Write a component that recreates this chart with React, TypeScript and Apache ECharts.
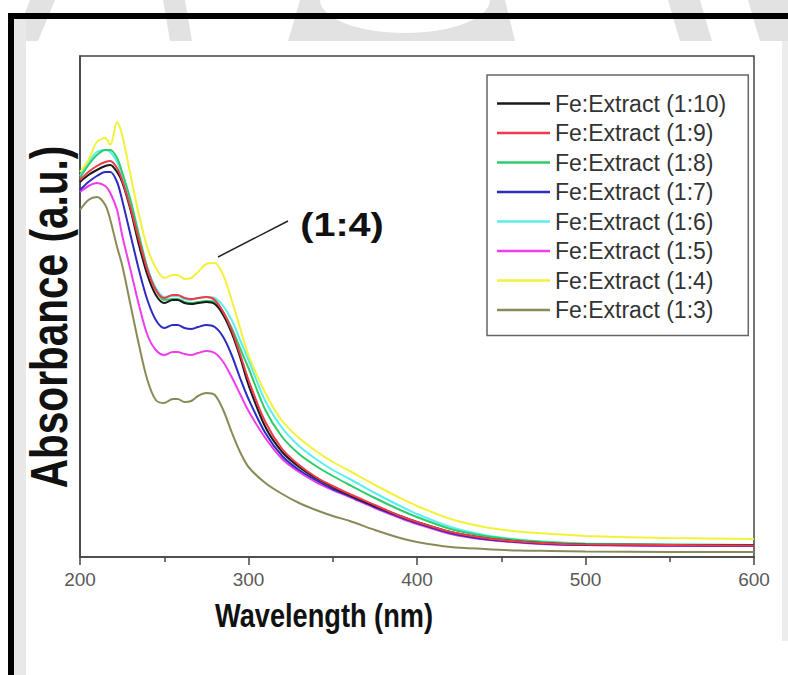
import React, { useEffect, useRef } from "react";
import * as echarts from "echarts";

// Wavelength grid (nm)
const wavelength = [200, 205, 210, 215, 218, 222, 225, 230, 235, 240, 245, 250, 255, 258, 262, 266, 270, 275, 280, 285, 290, 295, 300, 310, 320, 330, 340, 350, 360, 375, 390, 400, 420, 440, 460, 480, 500, 550, 600];

// Absorbance (a.u.)
const abs_1_10 = [3.75, 3.82, 3.87, 3.91, 3.92, 3.85, 3.75, 3.47, 3.12, 2.82, 2.62, 2.54, 2.57, 2.57, 2.54, 2.53, 2.54, 2.55, 2.53, 2.42, 2.24, 2.0, 1.72, 1.3, 1.05, 0.9, 0.79, 0.7, 0.62, 0.51, 0.41, 0.35, 0.25, 0.19, 0.155, 0.135, 0.125, 0.12, 0.12];
const abs_1_9 = [3.77, 3.85, 3.91, 3.95, 3.96, 3.89, 3.77, 3.49, 3.17, 2.87, 2.67, 2.59, 2.62, 2.62, 2.59, 2.58, 2.59, 2.6, 2.57, 2.45, 2.27, 2.03, 1.77, 1.35, 1.08, 0.92, 0.8, 0.71, 0.63, 0.52, 0.41, 0.35, 0.25, 0.19, 0.155, 0.135, 0.125, 0.12, 0.115];
const abs_1_8 = [3.79, 3.92, 4.02, 4.07, 4.07, 3.99, 3.85, 3.57, 3.22, 2.89, 2.67, 2.57, 2.58, 2.58, 2.55, 2.54, 2.55, 2.56, 2.55, 2.45, 2.29, 2.09, 1.89, 1.47, 1.2, 1.03, 0.91, 0.81, 0.72, 0.59, 0.47, 0.4, 0.28, 0.21, 0.17, 0.145, 0.13, 0.125, 0.12];
const abs_1_7 = [3.67, 3.75, 3.81, 3.85, 3.85, 3.75, 3.57, 3.22, 2.87, 2.57, 2.37, 2.29, 2.32, 2.32, 2.29, 2.28, 2.3, 2.32, 2.3, 2.2, 2.02, 1.79, 1.58, 1.24, 1.01, 0.87, 0.77, 0.68, 0.61, 0.5, 0.4, 0.34, 0.24, 0.18, 0.15, 0.13, 0.12, 0.115, 0.11];
const abs_1_6 = [3.81, 3.95, 4.05, 4.07, 4.05, 3.95, 3.82, 3.54, 3.19, 2.89, 2.69, 2.6, 2.61, 2.61, 2.58, 2.57, 2.59, 2.6, 2.59, 2.51, 2.37, 2.17, 1.97, 1.56, 1.29, 1.11, 0.98, 0.87, 0.78, 0.64, 0.51, 0.43, 0.3, 0.22, 0.175, 0.15, 0.135, 0.125, 0.12];
const abs_1_5 = [3.65, 3.71, 3.74, 3.71, 3.64, 3.47, 3.22, 2.87, 2.52, 2.22, 2.07, 2.02, 2.05, 2.05, 2.03, 2.02, 2.04, 2.06, 2.04, 1.95, 1.8, 1.63, 1.46, 1.19, 0.98, 0.85, 0.75, 0.67, 0.6, 0.49, 0.39, 0.33, 0.23, 0.175, 0.145, 0.125, 0.12, 0.11, 0.11];
const abs_1_4 = [3.85, 3.97, 4.15, 4.19, 4.12, 4.35, 4.22, 3.82, 3.42, 3.09, 2.89, 2.79, 2.82, 2.82, 2.78, 2.79, 2.85, 2.93, 2.94, 2.82, 2.57, 2.29, 2.02, 1.64, 1.36, 1.19, 1.06, 0.95, 0.86, 0.72, 0.59, 0.51, 0.38, 0.3, 0.255, 0.23, 0.21, 0.19, 0.18];
const abs_1_3 = [3.47, 3.57, 3.6, 3.52, 3.37, 3.1, 2.92, 2.52, 2.12, 1.77, 1.57, 1.54, 1.58, 1.58, 1.55, 1.56, 1.61, 1.64, 1.62, 1.47, 1.25, 1.05, 0.9, 0.74, 0.63, 0.54, 0.47, 0.41, 0.36, 0.27, 0.19, 0.15, 0.1, 0.08, 0.065, 0.06, 0.055, 0.05, 0.05];

const legendNames = [
  "Fe:Extract (1:10)",
  "Fe:Extract (1:9)",
  "Fe:Extract (1:8)",
  "Fe:Extract (1:7)",
  "Fe:Extract (1:6)",
  "Fe:Extract (1:5)",
  "Fe:Extract (1:4)",
  "Fe:Extract (1:3)",
];
const seriesValues = [abs_1_10, abs_1_9, abs_1_8, abs_1_7, abs_1_6, abs_1_5, abs_1_4, abs_1_3];
const seriesColors = ["#1a1a1a", "#f03a4a", "#2ecc6a", "#2c2cc4", "#5ceeee", "#ee3cee", "#f2f23a", "#8a8a58"];
// drawing order (last on top)
const drawOrder = [7, 5, 3, 4, 2, 0, 1, 6];

const xTicks = { min: 200, max: 600, interval: 100 };
const FONT = "'Liberation Sans', Arial, sans-serif";

export default function App() {
  const ref = useRef<HTMLDivElement>(null);
  useEffect(() => {
    document.body.style.margin = "0";
    const chart = echarts.init(ref.current!, undefined, { renderer: "svg" });
    const series = drawOrder.map((i) => ({
      name: legendNames[i],
      type: "line",
      data: wavelength.map((w, k) => [w, seriesValues[i][k]]),
      showSymbol: false,
      symbol: "none",
      smooth: 0.3,
      color: seriesColors[i],
      lineStyle: { width: 2, color: seriesColors[i] },
    }));
    const wm = "#e2e2e2";
    chart.setOption({
      animation: false,
      backgroundColor: "#ffffff",
      grid: {
        left: 80,
        right: 34,
        top: 56,
        bottom: 118,
        show: true,
        borderColor: "#444",
        borderWidth: 1.5,
        backgroundColor: "transparent",
      },
      xAxis: {
        type: "value",
        min: xTicks.min,
        max: xTicks.max,
        interval: xTicks.interval,
        axisLine: { show: true, lineStyle: { color: "#444", width: 1.5 } },
        axisTick: { show: true, inside: false, length: 8, lineStyle: { color: "#444", width: 1.5 } },
        minorTick: { show: true, splitNumber: 2, length: 5, lineStyle: { color: "#444", width: 1.5 } },
        axisLabel: { fontSize: 19, color: "#5a5a5a", margin: 13, fontFamily: FONT },
        splitLine: { show: false },
        minorSplitLine: { show: false },
      },
      yAxis: {
        type: "value",
        min: 0,
        max: 5.01,
        axisLine: { show: true, lineStyle: { color: "#444", width: 1.5 } },
        axisTick: { show: false },
        axisLabel: { show: false },
        splitLine: { show: false },
      },
      legend: {
        orient: "vertical",
        left: 487,
        top: 75,
        padding: [17, 22, 14, 10],
        icon: "rect",
        itemWidth: 53,
        itemHeight: 2.5,
        itemGap: 6.5,
        borderColor: "#666",
        borderWidth: 1.5,
        backgroundColor: "#fff",
        textStyle: { fontSize: 23, fontFamily: FONT, color: "#333", lineHeight: 22 },
        data: legendNames,
      },
      series,
      graphic: [
        // watermark shapes outside the chart picture
        { type: "polygon", z: -20, shape: { points: [[30, 0], [55, 0], [38, 41], [14, 41]] }, style: { fill: wm } },
        { type: "polygon", z: -20, shape: { points: [[163, 0], [185, 0], [192, 41], [170, 41]] }, style: { fill: wm } },
        { type: "polygon", z: -20, shape: { points: [[300, 0], [505, 0], [515, 41], [288, 41]] }, style: { fill: wm } },
        { type: "ellipse", z: -19, shape: { cx: 405, cy: 0, rx: 85, ry: 33 }, style: { fill: "#fff" } },
        { type: "polygon", z: -20, shape: { points: [[668, 0], [700, 0], [712, 41], [680, 41]] }, style: { fill: wm } },
        { type: "polygon", z: -20, shape: { points: [[748, 0], [788, 0], [788, 41], [760, 41]] }, style: { fill: wm } },
        { type: "rect", z: -18, shape: { x: 14, y: 19, width: 12, height: 656 }, style: { fill: "#e8e8e8" } },
        { type: "rect", z: -18, shape: { x: 782, y: 41, width: 6, height: 600 }, style: { fill: "#ececec" } },
        { type: "rect", z: -17, shape: { x: 26, y: 41, width: 756, height: 595 }, style: { fill: "#fff" } },
        { type: "rect", z: -16, shape: { x: 11, y: 16, width: 800, height: 700 }, style: { fill: "none", stroke: "#000", lineWidth: 6 } },
        // axis titles
        {
          type: "text",
          z: 10,
          x: 324,
          y: 615,
          scaleX: 0.8,
          style: { text: "Wavelength (nm)", fontSize: 34, fontWeight: "bold", fontFamily: FONT, fill: "#111", align: "center", verticalAlign: "middle" },
        },
        {
          type: "text",
          z: 10,
          x: 49,
          y: 317,
          rotation: Math.PI / 2,
          scaleX: 0.78,
          style: { text: "Absorbance (a.u.)", fontSize: 52, fontWeight: "bold", fontFamily: FONT, fill: "#111", align: "center", verticalAlign: "middle" },
        },
        // annotation
        { type: "line", z: 10, shape: { x1: 218, y1: 257, x2: 288, y2: 221 }, style: { stroke: "#222", lineWidth: 1.5 } },
        {
          type: "text",
          z: 10,
          x: 342,
          y: 225,
          scaleX: 1.2,
          style: { text: "(1:4)", fontSize: 33, fontWeight: "bold", fontFamily: FONT, fill: "#111", align: "center", verticalAlign: "middle" },
        },
      ],
    });
    return () => chart.dispose();
  }, []);
  return <div ref={ref} style={{ width: 788, height: 675 }} />;
}
